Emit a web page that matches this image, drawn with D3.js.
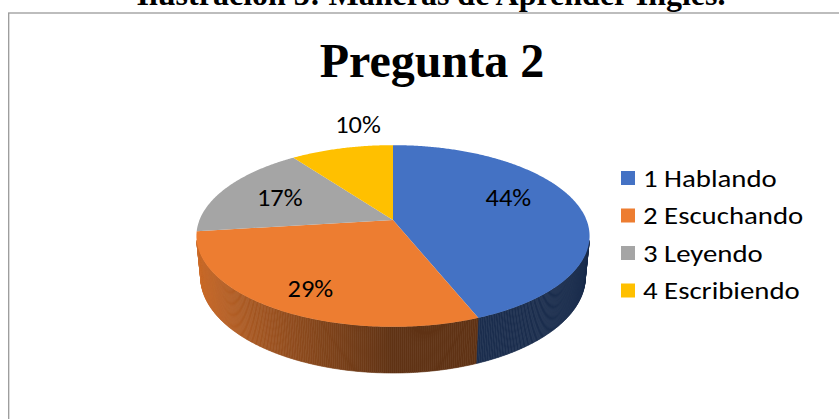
<!DOCTYPE html>
<html>
<head>
<meta charset="utf-8">
<script src="https://cdn.jsdelivr.net/npm/d3@7"></script>
<style>
  body { margin: 0; background: #fff; }
  svg { display: block; }
</style>
</head>
<body>
<div id="chart"></div>
<script>
// data
var categories = ['1 Hablando', '2 Escuchando', '3 Leyendo', '4 Escribiendo'];
var values = [44, 29, 17, 10];
var colors = ['#4472C4', '#ED7D31', '#A5A5A5', '#FFC000'];
var caption = 'Ilustración 3: Maneras de Aprender Inglés.';
var title = 'Pregunta 2';

var app = {};
app.w = 839;
app.h = 419;
// 3d pie projection settings
app.cx = 393;   // screen x of pie centre
app.cy = 220;   // screen y of pie centre (top face)
app.k = 193.5;  // radius in pixels
app.dist = 5.06; // camera distance (in radii)
app.sinA = 0.455; // camera elevation
app.cosA = Math.sqrt(1 - app.sinA * app.sinA);
app.depth = 0.24; // pie thickness (in radii)
// small label placement tweaks (excel "best fit" is not quite mid-angle)
app.labelNudge = [[-11, -11], [-8, 12], [2, 1], [6, -7]];

// perspective projection of point on a pie of radius rho, angle t (0 = back, clockwise), height z
app.proj = function(t, rho, z){
  var X = rho * Math.sin(t), Y = rho * Math.cos(t);
  var dd = app.dist + Y * app.cosA - z * app.sinA;
  var f = app.dist / dd;
  return [app.cx + app.k * X * f,
          app.cy - app.k * (Y * app.sinA + z * app.cosA) * f];
};

var svg = d3.select('#chart').append('svg')
  .attr('width', app.w)
  .attr('height', app.h);

// chart frame
svg.append('rect')
  .attr('x', 8.7).attr('y', 13)
  .attr('width', 900).attr('height', 500)
  .style('fill', 'none')
  .style('stroke', '#9a9a9a')
  .style('stroke-width', 1.3);

// caption (cut by the page top, as in the original)
svg.append('text')
  .attr('x', 431).attr('y', 5)
  .attr('text-anchor', 'middle')
  .style('font-family', '"Liberation Serif", "Times New Roman", serif')
  .style('font-weight', 'bold')
  .style('font-size', '32px')
  .text(caption);

svg.append('text')
  .attr('x', 432).attr('y', 77)
  .attr('text-anchor', 'middle')
  .style('font-family', '"Liberation Serif", "Times New Roman", serif')
  .style('font-weight', 'bold')
  .style('font-size', '48px')
  .text(title);

var pie = d3.pie().sort(null).value(function(d){ return d; });
var arcs = pie(values);
var total = d3.sum(values);
var step = Math.PI / 360;

// visible part of the side wall
var tVis = Math.acos(-1 / (app.dist * app.cosA));
var tMin = tVis, tMax = 2 * Math.PI - tVis;

var shade = function(t){
  return 0.4 + 0.47 * Math.max(0, -Math.sin(t));
};

// sides first
var sides = svg.append('g');
arcs.forEach(function(a, i){
  var s = Math.max(a.startAngle, tMin), e = Math.min(a.endAngle, tMax);
  if (e <= s) return;
  var n = Math.max(1, Math.ceil((e - s) / step));
  for (var j = 0; j < n; j++){
    var t0 = s + (e - s) * j / n, t1 = s + (e - s) * (j + 1) / n;
    var p = [app.proj(t0, 1, 0), app.proj(t1, 1, 0),
             app.proj(t1, 1, -app.depth), app.proj(t0, 1, -app.depth)];
    var c = d3.interpolateRgb('#000', colors[i])(shade((t0 + t1) / 2));
    sides.append('path')
      .attr('d', 'M' + p.join('L') + 'Z')
      .style('fill', c)
      .style('stroke', c)
      .style('stroke-width', 0.6);
  }
});

// top faces
svg.append('g').selectAll('path')
  .data(arcs)
  .enter()
  .append('path')
  .attr('d', function(a){
    var pts = [app.proj(0, 0, 0)];
    var n = Math.max(2, Math.ceil((a.endAngle - a.startAngle) / step));
    for (var j = 0; j <= n; j++){
      pts.push(app.proj(a.startAngle + (a.endAngle - a.startAngle) * j / n, 1, 0));
    }
    return 'M' + pts.join('L') + 'Z';
  })
  .style('fill', function(d, i){ return colors[i]; });

// percentage labels
svg.append('g').selectAll('text')
  .data(arcs)
  .enter()
  .append('text')
  .attr('transform', function(a, i){
    var mid = (a.startAngle + a.endAngle) / 2;
    var small = (a.endAngle - a.startAngle) < 0.7;
    var p = small ? app.proj(mid, 1.28, 0) : app.proj(mid, 0.68, 0);
    if (small) p[0] += 22;
    p[0] += app.labelNudge[i][0];
    p[1] += app.labelNudge[i][1];
    return 'translate(' + p[0] + ',' + (p[1] + 8) + ') scale(1.1,1)';
  })
  .attr('text-anchor', 'middle')
  .style('font-family', 'Carlito, Calibri, Lato, sans-serif')
  .style('font-size', '24px')
  .style('fill', '#000')
  .text(function(a){ return Math.round(a.value / total * 100) + '%'; });

// legend
var legend = svg.append('g').selectAll('g')
  .data(categories)
  .enter()
  .append('g')
  .attr('transform', function(d, i){ return 'translate(621,' + (178 + i * 37.5) + ')'; });

legend.append('rect')
  .attr('x', 0).attr('y', -7)
  .attr('width', 14).attr('height', 14)
  .style('fill', function(d, i){ return colors[i]; });

legend.append('text')
  .attr('transform', 'translate(22,8.5) scale(1.2,1)')
  .style('font-family', 'Carlito, Calibri, Lato, sans-serif')
  .style('font-size', '24px')
  .style('fill', '#000')
  .text(function(d){ return d; });
</script>
</body>
</html>
